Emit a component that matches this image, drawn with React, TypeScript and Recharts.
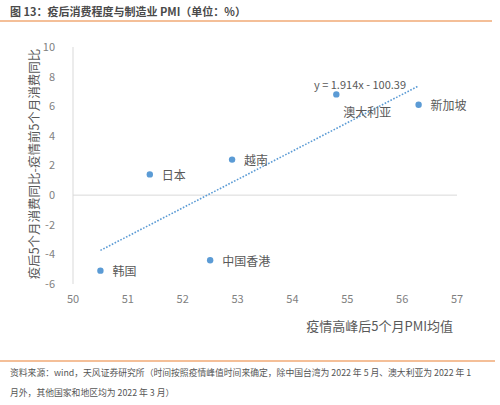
import { ScatterChart, Scatter, XAxis, YAxis, ReferenceLine } from "recharts";

// values
const regions = ["韩国", "日本", "中国香港", "越南", "澳大利亚", "新加坡"];
const pmiAvg = [50.5, 51.4, 52.5, 52.9, 54.8, 56.3];
const consumptionGap = [-5.1, 1.4, -4.4, 2.4, 6.8, 6.1];

// dotted trendline end points (y = 1.914x - 100.39)
const trendX = [50.5, 56.3];
const trendY = [-3.73, 7.37];

const xTicks = [50, 51, 52, 53, 54, 55, 56, 57];
const yTicks = [-6, -4, -2, 0, 2, 4, 6, 8, 10];

const points = regions.map((name, i) => ({
  name,
  x: pmiAvg[i],
  y: consumptionGap[i],
}));
const trend = trendX.map((x, i) => ({ x, y: trendY[i] }));

const BLUE = "#5b9bd5";
const GRAY = "#595959";
const TICK = "#7f7f7f";
const FONT = "'Noto Sans CJK SC', 'Noto Sans', sans-serif";

// label sits to the right of the dot, except Australia which drops below
const belowLabels = new Set(["澳大利亚"]);

const Dot = (props: any) => {
  const { cx, cy, payload } = props;
  const below = belowLabels.has(payload.name);
  return (
    <g>
      <circle cx={cx} cy={cy} r={3.2} fill={BLUE} />
      <text
        x={below ? cx + 7 : cx + 12}
        y={below ? cy + 19 : cy + 2}
        fontSize={12}
        fill={GRAY}
        dominantBaseline="middle"
        fontFamily={FONT}
      >
        {payload.name}
      </text>
    </g>
  );
};

export default function App() {
  return (
    <div
      style={{
        position: "absolute",
        left: 0,
        top: 0,
        width: 500,
        height: 405,
        background: "#fff",
        fontFamily: FONT,
        overflow: "hidden",
      }}
    >
      <div
        style={{
          position: "absolute",
          left: 10,
          top: 3,
          fontSize: 11,
          fontWeight: 600,
          color: "#4a4a4a",
          whiteSpace: "nowrap",
        }}
      >
        图 13：疫后消费程度与制造业 PMI（单位：%）
      </div>
      <div
        style={{
          position: "absolute",
          left: 0,
          top: 20,
          width: 492,
          height: 1.5,
          background: "#f4bf98",
        }}
      />

      <ScatterChart
        width={500}
        height={405}
        margin={{ top: 47, right: 43, bottom: 91, left: 13 }}
        style={{ position: "absolute", left: 0, top: 0 }}
      >
        <XAxis
          type="number"
          dataKey="x"
          domain={[50, 57]}
          ticks={xTicks}
          height={30}
          axisLine={false}
          tickLine={false}
          tickMargin={5}
          tick={{ fontSize: 11, fill: TICK, fontFamily: FONT }}
        />
        <YAxis
          type="number"
          dataKey="y"
          domain={[-6, 10]}
          ticks={yTicks}
          width={60}
          axisLine={{ stroke: "#d9d9d9" }}
          tickLine={false}
          tickMargin={12}
          tick={{ fontSize: 11, fill: TICK, fontFamily: FONT }}
        />
        <ReferenceLine y={0} stroke="#d9d9d9" strokeWidth={1} />
        <Scatter
          data={trend}
          isAnimationActive={false}
          line={{ stroke: BLUE, strokeWidth: 1.6, strokeDasharray: "1.6 1.6" }}
          shape={() => <g />}
        />
        <Scatter data={points} isAnimationActive={false} shape={Dot} />
        <text
          x={314}
          y={86}
          fontSize={11}
          fill={GRAY}
          dominantBaseline="middle"
          fontFamily={FONT}
        >
          y = 1.914x - 100.39
        </text>
        <text
          x={453}
          y={327}
          fontSize={13}
          fill={GRAY}
          textAnchor="end"
          dominantBaseline="middle"
          fontFamily={FONT}
        >
          疫情高峰后5个月PMI均值
        </text>
        <text
          transform="translate(36 164) rotate(-90)"
          fontSize={12.5}
          fill={GRAY}
          textAnchor="middle"
          dominantBaseline="middle"
          fontFamily={FONT}
        >
          疫后5个月消费同比-疫情前5个月消费同比
        </text>
      </ScatterChart>

      <div
        style={{
          position: "absolute",
          left: 0,
          top: 360,
          width: 495,
          height: 1.5,
          background: "#f4bf98",
        }}
      />
      <div
        style={{
          position: "absolute",
          left: 10,
          top: 363,
          fontSize: 8.8,
          lineHeight: "20px",
          color: "#555",
          whiteSpace: "nowrap",
        }}
      >
        <div>
          资料来源：wind，天风证券研究所（时间按照疫情峰值时间来确定，除中国台湾为 2022 年 5 月、澳大利亚为 2022 年 1
        </div>
        <div>月外，其他国家和地区均为 2022 年 3 月）</div>
      </div>
    </div>
  );
}
